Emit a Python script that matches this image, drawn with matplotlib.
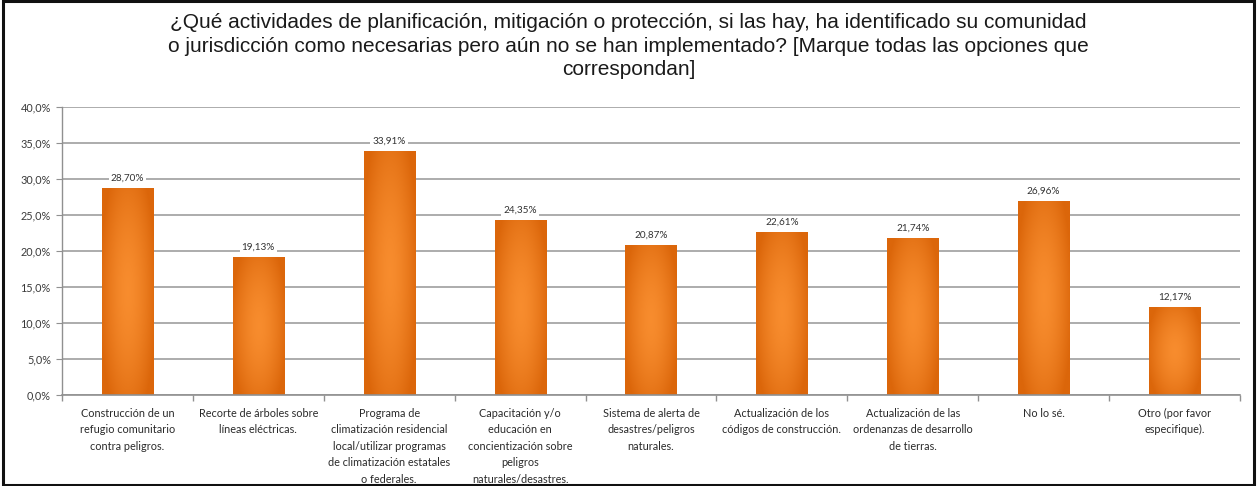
import numpy as np
import matplotlib.pyplot as plt
from matplotlib.patches import Rectangle
from matplotlib.ticker import MultipleLocator, FuncFormatter

categories = [
    "Construcción de un\nrefugio comunitario\ncontra peligros.",
    "Recorte de árboles sobre\nlíneas eléctricas.",
    "Programa de\nclimatización residencial\nlocal/utilizar programas\nde climatización estatales\no federales.",
    "Capacitación y/o\neducación en\nconcientización sobre\npeligros\nnaturales/desastres.",
    "Sistema de alerta de\ndesastres/peligros\nnaturales.",
    "Actualización de los\ncódigos de construcción.",
    "Actualización de las\nordenanzas de desarrollo\nde tierras.",
    "No lo sé.",
    "Otro (por favor\nespecifique).",
]
values = [28.70, 19.13, 33.91, 24.35, 20.87, 22.61, 21.74, 26.96, 12.17]

title = ("¿Qué actividades de planificación, mitigación o protección, si las hay, ha identificado su comunidad\n"
         "o jurisdicción como necesarias pero aún no se han implementado? [Marque todas las opciones que\n"
         "correspondan]")

plt.rcParams['font.family'] = ['Lato', 'DejaVu Sans']

fig = plt.figure(figsize=(12.57, 4.86), dpi=100)
ax = fig.add_axes([62/1257, 1-395/486, (1240-62)/1257, (395-107)/486])

# outer frame of the chart
fig.patches.append(Rectangle((0.002, 0.003), 0.996, 0.994, transform=fig.transFigure,
                             fill=False, edgecolor='#111111', linewidth=2.2))

fig.text(0.5, 1-46/486, title, ha='center', va='center', fontsize=15.0,
         linespacing=1.3, color='#1a1a1a', family=['Liberation Sans', 'DejaVu Sans'])

n = len(values)
x = np.arange(n)
width = 0.39

# orange gradient used to fill each bar: darker at the edges, light in the middle
gx = np.linspace(-1, 1, 60)
gy = np.linspace(-1, 1, 200)
GX, GY = np.meshgrid(gx, gy)
t = np.clip(np.sqrt((GX * 0.9) ** 2 + (GY * 0.75) ** 2), 0, 1) ** 1.6
light = np.array([0.97, 0.55, 0.18])
dark = np.array([0.86, 0.40, 0.04])
grad = light[None, None, :] * (1 - t[..., None]) + dark[None, None, :] * t[..., None]

ax.set_xlim(-0.5, n - 0.5)
ax.set_ylim(0, 40)

for xi, v in zip(x, values):
    rect = Rectangle((xi - width / 2, 0), width, v, facecolor='none', edgecolor='none')
    ax.add_patch(rect)
    im = ax.imshow(grad, extent=(xi - width / 2, xi + width / 2, 0, v),
                   aspect='auto', origin='lower', zorder=2, interpolation='bilinear')
    im.set_clip_path(rect)
    ax.text(xi, v + 0.75, f"{v:.2f}%".replace('.', ','), ha='center', va='bottom',
            fontsize=7.2, color='#333333', zorder=4,
            bbox=dict(facecolor='white', edgecolor='none', pad=1.5))

ax.set_aspect('auto')
ax.yaxis.set_major_locator(MultipleLocator(5))
ax.yaxis.set_major_formatter(FuncFormatter(lambda v, p: f"{v:.1f}%".replace('.', ',')))
ax.grid(axis='y', color='#a6a6a6', linewidth=1.3, zorder=0)
ax.set_axisbelow(True)

ax.set_xticks(x)
ax.set_xticklabels(categories, fontsize=7.8, color='#2a2a2a', linespacing=1.62, va='top')
ax.set_xticks(np.arange(-0.5, n, 1), minor=True)
ax.tick_params(axis='x', which='major', length=0, pad=9)
ax.tick_params(axis='x', which='minor', length=4, color='#909090', width=1)
ax.tick_params(axis='y', length=4, color='#909090', labelsize=7.8, labelcolor='#3a3a3a', pad=4)

for s in ['top', 'right']:
    ax.spines[s].set_visible(False)
ax.spines['left'].set_color('#909090')
ax.spines['bottom'].set_color('#909090')
ax.spines['left'].set_linewidth(1)
ax.spines['bottom'].set_linewidth(1.2)

fig.savefig('out.png', dpi=100)
